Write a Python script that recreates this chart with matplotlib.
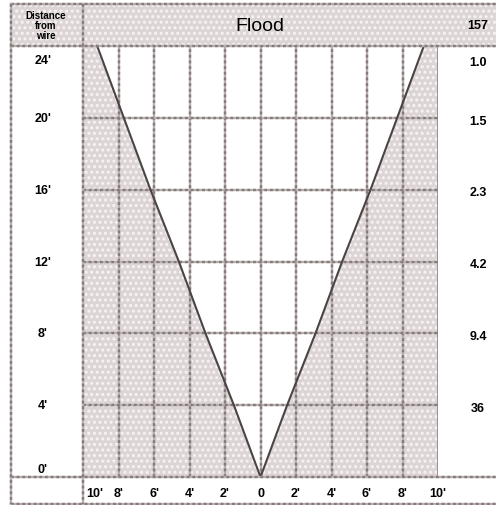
import matplotlib
matplotlib.use("Agg")
import matplotlib.pyplot as plt
from matplotlib.patches import Rectangle

plt.rcParams['font.family'] = ['Liberation Sans', 'DejaVu Sans']
plt.rcParams['hatch.linewidth'] = 1.4

# ---- data ----
heights = [0, 4, 8, 12, 16, 20, 24]            # ft above ground
height_labels = ["0'", "4'", "8'", "12'", "16'", "20'", "24'"]
half_width = [0, 1.5, 3.1, 4.6, 6.2, 7.7, 9.2]   # lateral distance of flood boundary (ft)
x_ticks = [-10, -8, -6, -4, -2, 0, 2, 4, 6, 8, 10]
x_labels = ["10'", "8'", "6'", "4'", "2'", "0", "2'", "4'", "6'", "8'", "10'"]
right_values = ["1.0", "1.5", "2.3", "4.2", "9.4", "36"]
right_heights = [24, 20, 16, 12, 8, 4]
header_value = "157"
title = "Flood"
corner_label = "Distance\nfrom\nwire"

W, H = 496, 506
fig = plt.figure(figsize=(W / 100, H / 100), dpi=100)
fig.patch.set_facecolor('white')

shade = '#ddd5d5'
grid_c = '#857b7b'
grid_light = '#b8afaf'

# main plot area (pixels): x 83..438, y 47..478
L, R, T, B = 83, 438, 47, 478
ax = fig.add_axes([L / W, 1 - B / H, (R - L) / W, (B - T) / H])
ax.set_xlim(-10, 10)
ax.set_ylim(0, 24)
ax.axis('off')

left_x = [-v for v in half_width]
ax.fill_betweenx(heights, [-10] * len(heights), left_x, facecolor=shade,
                 hatch='...', edgecolor='#f8f4f6', linewidth=0, zorder=1)
ax.fill_betweenx(heights, half_width, [10] * len(heights), facecolor=shade,
                 hatch='...', edgecolor='#f8f4f6', linewidth=0, zorder=1)


def gridline(fn, v):
    fn(v, color=grid_light, lw=1.7, zorder=2)
    fn(v, color=grid_c, lw=1.7, ls=(0, (1.2, 1.2)), zorder=2)


for xv in x_ticks[1:-1]:
    gridline(ax.axvline, xv)
for yv in heights[1:-1]:
    gridline(ax.axhline, yv)
ax.axvline(10, color=grid_c, lw=1.8, zorder=2)

ax.plot(left_x, heights, color='#4a4444', lw=1.5, zorder=3)
ax.plot(half_width, heights, color='#4a4444', lw=1.5, zorder=3)

# y labels (left column)
for h, lab in zip(heights, height_labels):
    yy = h
    if h == 24:
        yy = 23.2
    elif h == 0:
        yy = 0.45
    ax.text(-0.113, yy, lab, transform=ax.get_yaxis_transform(), ha='center',
            va='center', fontsize=9, fontweight='bold', clip_on=False)

# right values
for h, lab in zip(right_heights, right_values):
    yy = 23.1 if h == 24 else h - 0.15
    ax.text(1.113, yy, lab, transform=ax.get_yaxis_transform(), ha='center',
            va='center', fontsize=9, fontweight='bold', clip_on=False)

# x labels (bottom row)
for xv, lab in zip(x_ticks, x_labels):
    xx = xv
    if xv == -10:
        xx = -9.35
    ax.text(xx, -0.023, lab, transform=ax.get_xaxis_transform(), ha='center',
            va='top', fontsize=9, fontweight='bold', clip_on=False)

# overlay for table frame
ov = fig.add_axes([0, 0, 1, 1], facecolor='none')
ov.set_xlim(0, W)
ov.set_ylim(H, 0)
ov.axis('off')
ov.add_patch(Rectangle((11, 5), W - 11, 43, facecolor=shade, hatch='...',
                       edgecolor='#f8f4f6', linewidth=0, zorder=0))
for xs, ys in [([11, W], [5, 5]), ([11, W], [47, 47]), ([11, W], [478, 478]),
               ([11, W], [505, 505]), ([11, 11], [5, 505]), ([83, 83], [5, 505])]:
    ov.plot(xs, ys, color=grid_light, lw=1.7)
    ov.plot(xs, ys, color=grid_c, lw=1.7, ls=(0, (1.2, 1.2)))

ov.text(260, 26, title, ha='center', va='center', fontsize=14)
ov.text(478, 26, header_value, ha='center', va='center', fontsize=9,
        fontweight='bold')
ov.text(46, 26, corner_label, ha='center', va='center', fontsize=7,
        fontweight='bold', linespacing=1.0)

fig.savefig('out.png', dpi=100)
